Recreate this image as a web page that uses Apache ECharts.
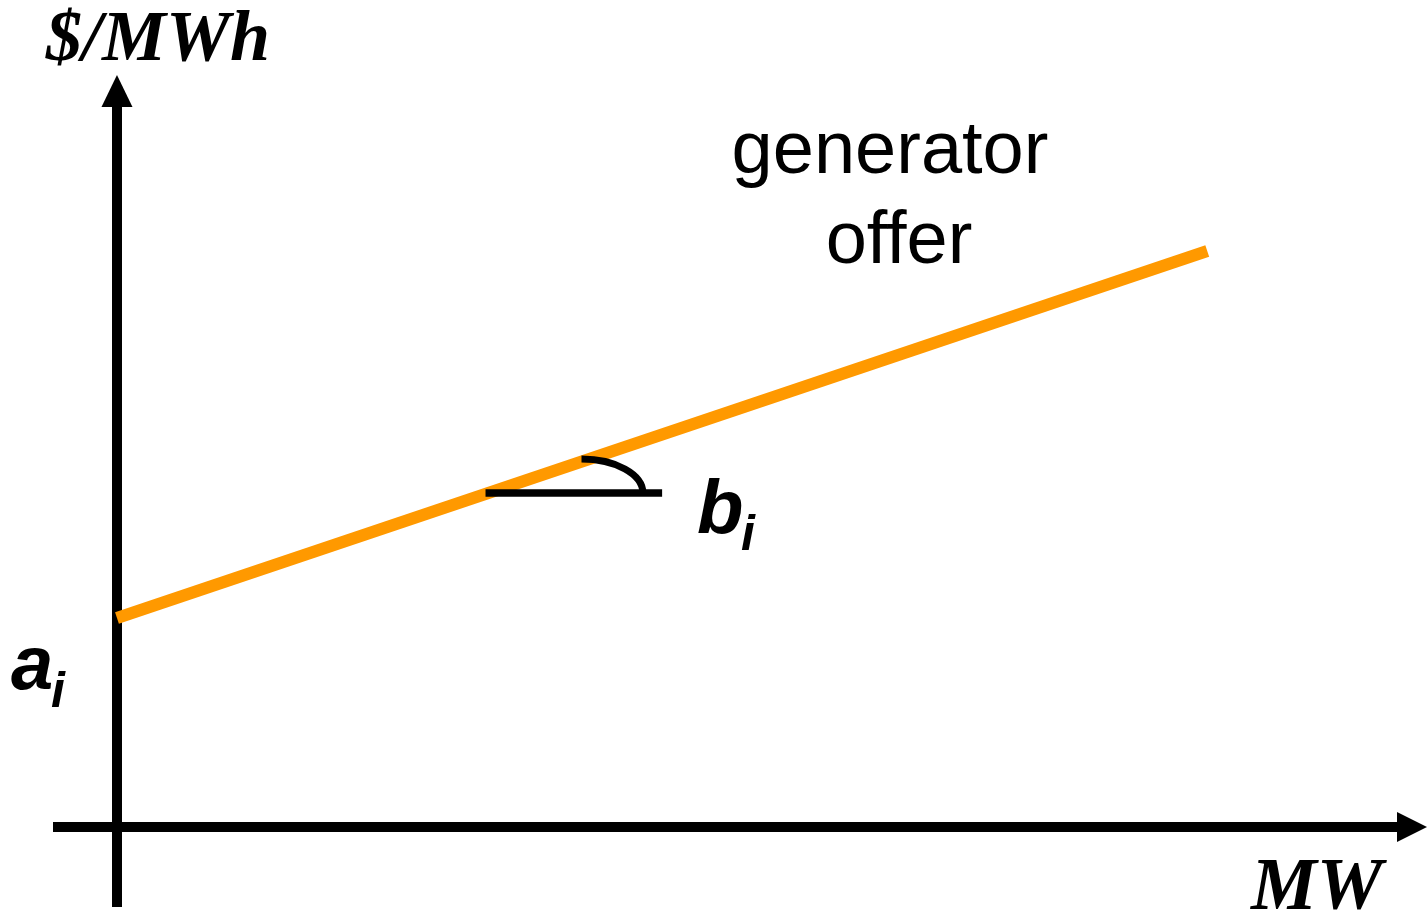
<!DOCTYPE html>
<html>
<head>
<meta charset="utf-8">
<script src="https://cdn.jsdelivr.net/npm/echarts@6/dist/echarts.min.js"></script>
<style>html,body{margin:0;padding:0;background:#fff}#c{width:1428px;height:913px}</style>
</head>
<body>
<div id="c"></div>
<script>
// ---- data (axis units) ----
const xRange = [-5, 101.2];          // MW axis extent
const yRange = [-8, 73.6];           // $/MWh axis extent
const offerX = [0, 85.2];            // generator offer line: MW
const offerY = [20.9, 57.6];         // generator offer line: $/MWh (a_i at MW = 0)
const slopeBaseX = [28.8, 42.6];     // horizontal reference for slope b_i
const slopeBaseY = [33.4, 33.4];
const slopeArc = [36.3, 33.4, 4.8, 3.4]; // centre x, centre y, radius x, radius y
const axisNames = { x: 'MW', y: '$/MWh' };
const offerLabel = ['generator', 'offer'];

const chart = echarts.init(document.getElementById('c'), null, { renderer: 'canvas' });

const SERIF = '"Liberation Serif", "Times New Roman", serif';
const SANS = '"Liberation Sans", Arial, sans-serif';

function txt(text, x, y, size, opts) {
  return {
    type: 'text', x: x, y: y, silent: true, z: 100,
    style: Object.assign({
      text: text, fill: '#000', fontSize: size, fontFamily: SANS,
      align: 'left', verticalAlign: 'middle'
    }, opts || {})
  };
}

const axisCommon = {
  type: 'value',
  axisLine: {
    show: true, onZero: true,
    symbol: ['none', 'triangle'],
    lineStyle: { color: '#000', width: 10, cap: 'butt' }
  },
  axisTick: { show: false },
  axisLabel: { show: false },
  splitLine: { show: false }
};

chart.setOption({
  animation: false,
  backgroundColor: '#fff',
  grid: { left: 53, right: 16, top: 91, bottom: 6, containLabel: false },
  xAxis: Object.assign({}, axisCommon, {
    min: xRange[0], max: xRange[1],
    axisLine: Object.assign({}, axisCommon.axisLine, { symbolSize: [30, 30] })
  }),
  yAxis: Object.assign({}, axisCommon, {
    min: yRange[0], max: yRange[1],
    axisLine: Object.assign({}, axisCommon.axisLine, { symbolSize: [31, 32] })
  }),
  series: [
    {
      type: 'line', name: 'generator offer',
      data: offerX.map((x, i) => [x, offerY[i]]),
      showSymbol: false, symbol: 'none',
      lineStyle: { color: '#FF9900', width: 12, cap: 'butt' },
      z: 2
    },
    {
      type: 'line', name: 'slope base',
      data: slopeBaseX.map((x, i) => [x, slopeBaseY[i]]),
      showSymbol: false, symbol: 'none',
      lineStyle: { color: '#000', width: 7.5, cap: 'butt' },
      z: 3
    },
    {
      type: 'custom', name: 'slope arc',
      data: [slopeArc],
      z: 4,
      renderItem: function (params, api) {
        const c = api.coord([api.value(0), api.value(1)]);
        const rx = api.size([api.value(2), 0])[0];
        const ry = api.size([0, api.value(3)])[1];
        const k = 0.5523;
        return {
          type: 'bezierCurve',
          shape: {
            x1: c[0], y1: c[1] - ry,
            cpx1: c[0] + k * rx, cpy1: c[1] - ry,
            cpx2: c[0] + rx, cpy2: c[1] - k * ry,
            x2: c[0] + rx, y2: c[1]
          },
          style: { stroke: '#000', lineWidth: 7, fill: null, lineCap: 'butt' }
        };
      }
    }
  ],
  graphic: [
    txt(axisNames.y, 46, 41, 72, { fontFamily: SERIF, fontWeight: 'bold', fontStyle: 'italic' }),
    txt(axisNames.x, 1251, 890, 74, { fontFamily: SERIF, fontWeight: 'bold', fontStyle: 'italic' }),
    txt(offerLabel[0], 890, 153, 74, { align: 'center' }),
    txt(offerLabel[1], 899, 243, 74, { align: 'center' }),
    txt('b', 697, 512, 76, { fontWeight: 'bold', fontStyle: 'italic' }),
    txt('i', 741, 536, 50, { fontWeight: 'bold', fontStyle: 'italic' }),
    txt('a', 11, 668, 76, { fontWeight: 'bold', fontStyle: 'italic' }),
    txt('i', 51, 693, 50, { fontWeight: 'bold', fontStyle: 'italic' })
  ]
});
</script>
</body>
</html>
